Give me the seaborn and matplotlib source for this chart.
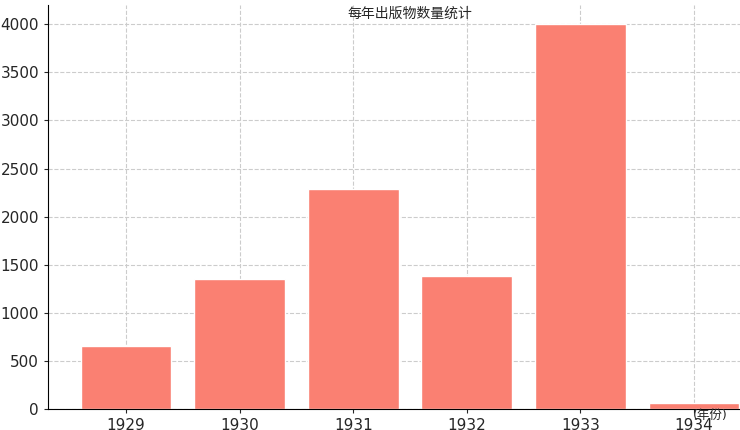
import matplotlib
matplotlib.use('Agg')
import matplotlib.pyplot as plt
import seaborn as sns

years = ['1929', '1930', '1931', '1932', '1933', '1934']
counts = [660, 1350, 2290, 1385, 4000, 60]

sns.set_style('white')
plt.rcParams['font.family'] = ['DejaVu Sans', 'Noto Sans CJK SC']

fig = plt.figure(figsize=(7.4, 4.3), dpi=100)
# axes run past the right edge, as in the cropped reference
ax = fig.add_axes([48 / 740, 21 / 430, 724 / 740, 404 / 430])
sns.barplot(x=years, y=counts, color='salmon', width=0.8, saturation=1, ax=ax)
ax.set_xlim(-0.687, 5.687)
ax.set_ylim(0, 4200)
ax.set_yticks(range(0, 4001, 500))
ax.grid(True, linestyle='--', color='#cccccc', linewidth=0.8)
ax.set_axisbelow(True)
for s in ['top', 'right']:
    ax.spines[s].set_visible(False)
ax.spines['left'].set_color('black')
ax.spines['bottom'].set_color('black')
ax.tick_params(axis='both', labelsize=11, length=3, left=True, bottom=True)
ax.set_xlabel('')
ax.set_ylabel('出版物数量（种）', fontsize=9, labelpad=1)
ax.set_title('每年出版物数量统计', fontsize=10, pad=-9)
fig.text(728 / 740, 8 / 430, '(年份)', fontsize=9, va='bottom', ha='right')

fig.savefig('out.png', dpi=100)
